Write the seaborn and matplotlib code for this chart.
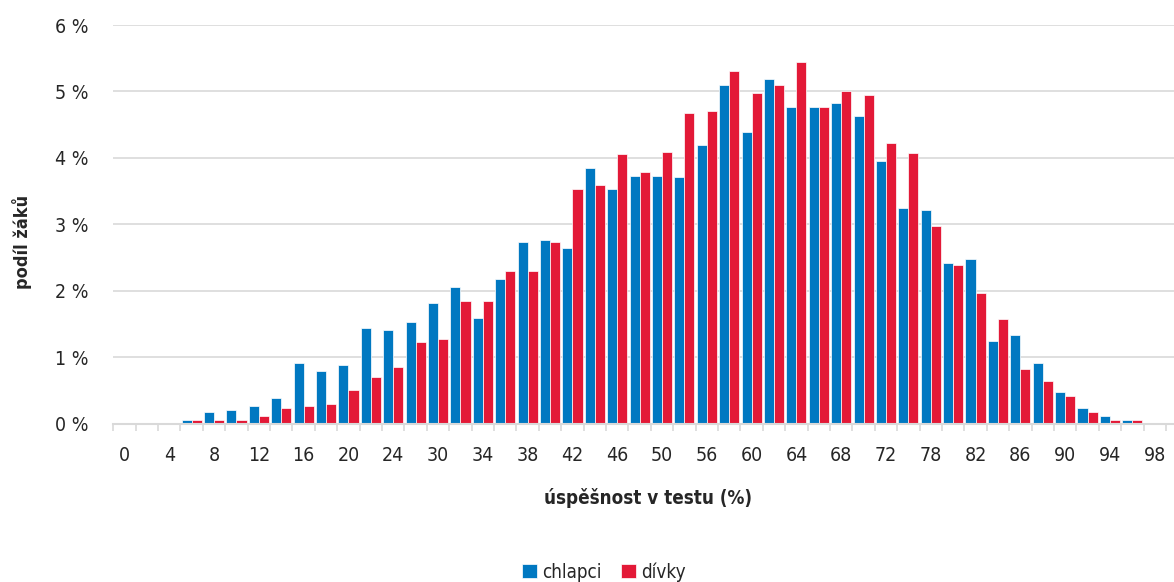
#import library
import pandas as pd
import matplotlib.pyplot as plt
import seaborn as sns

#data (share of pupils in %)
kategorie = ['0', '2', '4', '6', '8', '10', '12', '14', '16', '18', '20', '22', '24', '27',
             '30', '32', '34', '36', '38', '40', '42', '44', '46', '48', '50', '53', '56',
             '58', '60', '62', '64', '66', '68', '70', '72', '75', '78', '80', '82', '84',
             '86', '88', '90', '92', '94', '96', '98']
chlapci = [0, 0, 0, 0.05, 0.17, 0.20, 0.26, 0.39, 0.91, 0.79, 0.88, 1.44, 1.41,
           1.53, 1.81, 2.05, 1.59, 2.17, 2.73, 2.76, 2.64, 3.84, 3.53, 3.72, 3.72,
           3.71, 4.20, 5.10, 4.39, 5.19, 4.76, 4.76, 4.82, 4.63, 3.96, 3.25, 3.22, 2.42,
           2.48, 1.25, 1.34, 0.91, 0.48, 0.24, 0.11, 0.05, 0]
divky = [0, 0, 0.01, 0.05, 0.05, 0.05, 0.11, 0.23, 0.26, 0.29, 0.51, 0.70, 0.85,
         1.22, 1.28, 1.84, 1.84, 2.30, 2.30, 2.73, 3.53, 3.59, 4.06, 3.78, 4.09,
         4.67, 4.70, 5.31, 4.98, 5.10, 5.44, 4.76, 5.01, 4.94, 4.23, 4.08, 2.97, 2.38,
         1.96, 1.58, 0.82, 0.64, 0.42, 0.18, 0.05, 0.05, 0]
skupiny = ['chlapci', 'dívky']
barvy = ['#0078c1', '#e31937']
popisky_y = ['0 %', '1 %', '2 %', '3 %', '4 %', '5 %', '6 %']

sns.set_style('white')
plt.rcParams['font.family'] = ['DejaVu Sans']
plt.rcParams['font.stretch'] = 'condensed'
plt.rcParams['text.color'] = '#262626'

#long format for seaborn
df = pd.DataFrame({
    'kategorie': kategorie * 2,
    'podil': chlapci + divky,
    'pohlavi': [skupiny[0]] * len(kategorie) + [skupiny[1]] * len(kategorie),
})

fig = plt.figure(figsize=(11.74, 5.82), dpi=100)
ax = fig.add_axes([0.0965, 0.2723, 0.9035, 0.6847])

sns.barplot(data=df, x='kategorie', y='podil', hue='pohlavi', order=kategorie,
            hue_order=skupiny, palette=barvy, saturation=1, width=0.9,
            edgecolor='white', linewidth=0.5, ax=ax)

n = len(kategorie)
ax.set_xlim(-0.5, n - 0.14)
ax.set_ylim(0, 6)

#y axis
ax.set_yticks(range(len(popisky_y)))
ax.set_yticklabels(popisky_y, fontsize=14, color='#262626')
ax.tick_params(axis='y', length=0, pad=18)
ax.yaxis.grid(True, color='#d9d9d9', linewidth=1.2)
ax.set_axisbelow(True)

#x axis: labels every other category, ticks at boundaries
ax.set_xticks(range(0, n, 2))
ax.set_xticklabels(kategorie[::2], fontsize=14, color='#262626')
ax.set_xticks([i - 0.5 for i in range(n + 1)], minor=True)
ax.tick_params(axis='x', which='both', bottom=True)
ax.tick_params(axis='x', which='major', length=0, pad=16)
ax.tick_params(axis='x', which='minor', length=5, width=1.2, color='#d9d9d9')

for s in ['top', 'right', 'left']:
    ax.spines[s].set_visible(False)
ax.spines['bottom'].set_color('#d9d9d9')
ax.spines['bottom'].set_linewidth(1.5)

ax.set_xlabel('úspěšnost v testu (%)', fontsize=13.5, fontweight='bold')
ax.xaxis.set_label_coords(0.504, -0.163)
ax.set_ylabel('podíl žáků', fontsize=13, fontweight='bold')
ax.yaxis.set_label_coords(-0.077, 0.455)

#legend at the bottom
handles, labels = ax.get_legend_handles_labels()
ax.get_legend().remove()
fig.legend(handles, labels, loc='center', bbox_to_anchor=(604 / 1174, 1 - 572 / 582),
           ncol=2, frameon=False, fontsize=13.5, handlelength=0.8, handleheight=0.8,
           handletextpad=0.3, columnspacing=1.0)

fig.savefig('out.png', dpi=100)
